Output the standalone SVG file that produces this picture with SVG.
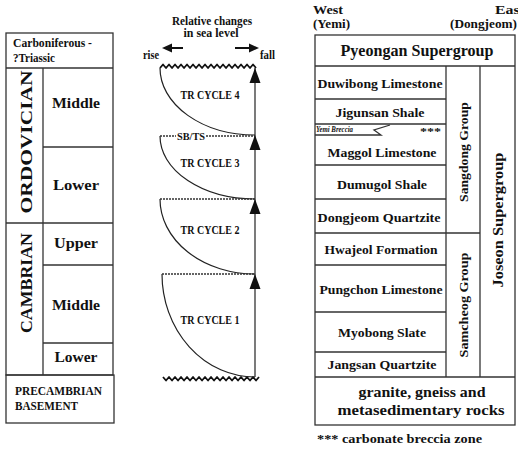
<svg xmlns="http://www.w3.org/2000/svg" width="518" height="451" viewBox="0 0 518 451">
<style>
text{font-family:"Liberation Serif","Times New Roman",serif;font-weight:bold;fill:#111}
.ln{fill:none;stroke:#333;stroke-width:1.3}
.dot{fill:none;stroke:#333;stroke-width:1.3;stroke-dasharray:2,1}
.cv{fill:none;stroke:#222;stroke-width:1.2}
.wv{fill:none;stroke:#111;stroke-width:1.8;stroke-linejoin:round}
.c{text-anchor:middle}
</style>
<defs>
<path id="ah" d="M0,0 L5.5,15 L-5.5,15 Z" fill="#111"/>
</defs>
<rect width="518" height="451" fill="#fff"/>

<g id="geologic-time">
<rect class="ln" x="6" y="33" width="107" height="342"/>
<rect class="ln" x="6" y="375" width="108" height="48"/>
<line class="ln" x1="6" y1="68" x2="113" y2="68"/>
<line class="ln" x1="43" y1="68" x2="43" y2="375"/>
<line class="ln" x1="6" y1="223" x2="113" y2="223"/>
<line class="ln" x1="43" y1="147" x2="113" y2="147"/>
<line class="ln" x1="43" y1="265" x2="113" y2="265"/>
<line class="ln" x1="43" y1="343" x2="113" y2="343"/>
<text x="13" y="47" font-size="11.5" textLength="79" lengthAdjust="spacingAndGlyphs">Carboniferous -</text>
<text x="13" y="62" font-size="11.5" textLength="42" lengthAdjust="spacingAndGlyphs">?Triassic</text>
<text class="c" x="76" y="108" font-size="15" textLength="48" lengthAdjust="spacingAndGlyphs">Middle</text>
<text class="c" x="76" y="190" font-size="15" textLength="46" lengthAdjust="spacingAndGlyphs">Lower</text>
<text class="c" x="76" y="248" font-size="15" textLength="44" lengthAdjust="spacingAndGlyphs">Upper</text>
<text class="c" x="76" y="310" font-size="15" textLength="48" lengthAdjust="spacingAndGlyphs">Middle</text>
<text class="c" x="76" y="362" font-size="15" textLength="43" lengthAdjust="spacingAndGlyphs">Lower</text>
<text class="c" transform="translate(32,142) rotate(-90)" font-size="16" textLength="143" lengthAdjust="spacingAndGlyphs">ORDOVICIAN</text>
<text class="c" transform="translate(32,283) rotate(-90)" font-size="16" textLength="100" lengthAdjust="spacingAndGlyphs">CAMBRIAN</text>
<text x="15" y="395" font-size="11.5" textLength="87" lengthAdjust="spacingAndGlyphs">PRECAMBRIAN</text>
<text x="15" y="410" font-size="11.5" textLength="63" lengthAdjust="spacingAndGlyphs">BASEMENT</text>
</g>

<g id="sea-level-header">
<text class="c" x="212" y="25" font-size="11.5" textLength="80" lengthAdjust="spacingAndGlyphs">Relative changes</text>
<text class="c" x="211" y="37" font-size="11.5" textLength="55" lengthAdjust="spacingAndGlyphs">in sea level</text>
<line x1="183" y1="48" x2="170" y2="48" stroke="#111" stroke-width="2"/>
<path d="M162,48 L172,43.5 L172,52.5 Z" fill="#111"/>
<line x1="235" y1="48" x2="250" y2="48" stroke="#111" stroke-width="2"/>
<path d="M259,48 L249,43.5 L249,52.5 Z" fill="#111"/>
<text x="143" y="59" font-size="11.5" textLength="16" lengthAdjust="spacingAndGlyphs">rise</text>
<text x="260" y="59" font-size="11.5" textLength="15" lengthAdjust="spacingAndGlyphs">fall</text>
</g>

<g id="tr-cycles">
<path class="wv" d="M160,68 l3,-3.5 l3,3.5 l3,-3.5 l3,3.5 l3,-3.5 l3,3.5 l3,-3.5 l3,3.5 l3,-3.5 l3,3.5 l3,-3.5 l3,3.5 l3,-3.5 l3,3.5 l3,-3.5 l3,3.5 l3,-3.5 l3,3.5 l3,-3.5 l3,3.5 l3,-3.5 l3,3.5 l3,-3.5 l3,3.5 l3,-3.5 l3,3.5 l3,-3.5 l3,3.5 l3,-3.5 l3,3.5 l3,-3.5 l3,3.5"/>
<path class="wv" d="M163,377 l3,3.5 l3,-3.5 l3,3.5 l3,-3.5 l3,3.5 l3,-3.5 l3,3.5 l3,-3.5 l3,3.5 l3,-3.5 l3,3.5 l3,-3.5 l3,3.5 l3,-3.5 l3,3.5 l3,-3.5 l3,3.5 l3,-3.5 l3,3.5 l3,-3.5 l3,3.5 l3,-3.5 l3,3.5 l3,-3.5 l3,3.5 l3,-3.5 l3,3.5 l3,-3.5 l3,3.5 l3,-3.5 l3,3.5 l3,-3.5"/>
<line class="cv" x1="255" y1="68" x2="255" y2="377"/>
<path class="cv" d="M160,68 A95,67 0 0 0 255,135"/>
<path class="cv" d="M160,136 A95,63 0 0 0 255,199"/>
<path class="cv" d="M160,199 A95,75 0 0 0 255,274"/>
<path class="cv" d="M162,274 A93,103 0 0 0 255,377"/>
<line class="dot" x1="160" y1="136" x2="176" y2="136"/>
<line class="dot" x1="206" y1="136" x2="255" y2="136"/>
<line class="dot" x1="160" y1="199" x2="255" y2="199"/>
<line class="dot" x1="162" y1="274" x2="255" y2="274"/>
<text x="177" y="139.5" font-size="10" textLength="28" lengthAdjust="spacingAndGlyphs">SB/TS</text>
<use href="#ah" x="255" y="68"/>
<use href="#ah" x="255" y="135"/>
<use href="#ah" x="255" y="199"/>
<use href="#ah" x="255" y="274"/>
<text class="c" x="210" y="99" font-size="12" textLength="59" lengthAdjust="spacingAndGlyphs">TR CYCLE 4</text>
<text class="c" x="210" y="167" font-size="12" textLength="59" lengthAdjust="spacingAndGlyphs">TR CYCLE 3</text>
<text class="c" x="210" y="234" font-size="12" textLength="59" lengthAdjust="spacingAndGlyphs">TR CYCLE 2</text>
<text class="c" x="210" y="324" font-size="12" textLength="59" lengthAdjust="spacingAndGlyphs">TR CYCLE 1</text>
</g>

<g id="stratigraphy">
<text x="313" y="14" font-size="12.5" textLength="30" lengthAdjust="spacingAndGlyphs">West</text>
<text x="313" y="28" font-size="12.5" textLength="37" lengthAdjust="spacingAndGlyphs">(Yemi)</text>
<text x="495" y="14" font-size="12.5" textLength="30" lengthAdjust="spacingAndGlyphs">East</text>
<text x="450" y="28" font-size="12.5" textLength="67" lengthAdjust="spacingAndGlyphs">(Dongjeom)</text>
<rect class="ln" x="315" y="35" width="200" height="390"/>
<line class="ln" x1="315" y1="66" x2="515" y2="66"/>
<line class="ln" x1="315" y1="377" x2="515" y2="377"/>
<line class="ln" x1="446" y1="66" x2="446" y2="377"/>
<line class="ln" x1="480" y1="66" x2="480" y2="377"/>
<line class="ln" x1="446" y1="233" x2="480" y2="233"/>
<line class="ln" x1="315" y1="99" x2="446" y2="99"/>
<line class="ln" x1="315" y1="124" x2="446" y2="124"/>
<line class="ln" x1="315" y1="165" x2="446" y2="165"/>
<line class="ln" x1="315" y1="199" x2="446" y2="199"/>
<line class="ln" x1="315" y1="233" x2="446" y2="233"/>
<line class="ln" x1="315" y1="265" x2="446" y2="265"/>
<line class="ln" x1="315" y1="312" x2="446" y2="312"/>
<line class="ln" x1="315" y1="352" x2="446" y2="352"/>
<text class="c" x="417" y="56" font-size="16" textLength="153" lengthAdjust="spacingAndGlyphs">Pyeongan Supergroup</text>
<text class="c" x="380" y="88" font-size="13.5" textLength="125" lengthAdjust="spacingAndGlyphs">Duwibong Limestone</text>
<text class="c" x="380" y="117" font-size="13.5" textLength="89" lengthAdjust="spacingAndGlyphs">Jigunsan Shale</text>
<polyline class="ln" points="315,135 381,135 374,130 390,125" stroke-width="1"/>
<text x="316" y="132" font-size="8.5" font-style="italic" textLength="37" lengthAdjust="spacingAndGlyphs">Yemi Breccia</text>
<text x="420" y="135" font-size="11" textLength="21" lengthAdjust="spacingAndGlyphs">***</text>
<text class="c" x="382" y="157" font-size="13.5" textLength="109" lengthAdjust="spacingAndGlyphs">Maggol Limestone</text>
<text class="c" x="382" y="189" font-size="13.5" textLength="90" lengthAdjust="spacingAndGlyphs">Dumugol Shale</text>
<text class="c" x="379" y="222" font-size="13.5" textLength="123" lengthAdjust="spacingAndGlyphs">Dongjeom Quartzite</text>
<text class="c" x="381" y="254" font-size="13.5" textLength="113" lengthAdjust="spacingAndGlyphs">Hwajeol Formation</text>
<text class="c" x="381" y="294" font-size="13.5" textLength="123" lengthAdjust="spacingAndGlyphs">Pungchon Limestone</text>
<text class="c" x="382" y="337" font-size="13.5" textLength="88" lengthAdjust="spacingAndGlyphs">Myobong Slate</text>
<text class="c" x="382" y="369" font-size="13.5" textLength="109" lengthAdjust="spacingAndGlyphs">Jangsan Quartzite</text>
<text class="c" transform="translate(468,152) rotate(-90)" font-size="13.5" textLength="100" lengthAdjust="spacingAndGlyphs">Sangdong Group</text>
<text class="c" transform="translate(468,305) rotate(-90)" font-size="13.5" textLength="105" lengthAdjust="spacingAndGlyphs">Samcheog Group</text>
<text class="c" transform="translate(503,220) rotate(-90)" font-size="14" textLength="135" lengthAdjust="spacingAndGlyphs">Joseon Supergroup</text>
<text class="c" x="422" y="397" font-size="15" textLength="127" lengthAdjust="spacingAndGlyphs">granite, gneiss and</text>
<text class="c" x="421" y="415" font-size="15" textLength="167" lengthAdjust="spacingAndGlyphs">metasedimentary rocks</text>
<text x="317" y="443" font-size="11.5" textLength="165" lengthAdjust="spacingAndGlyphs">*** carbonate breccia zone</text>
</g>
</svg>
